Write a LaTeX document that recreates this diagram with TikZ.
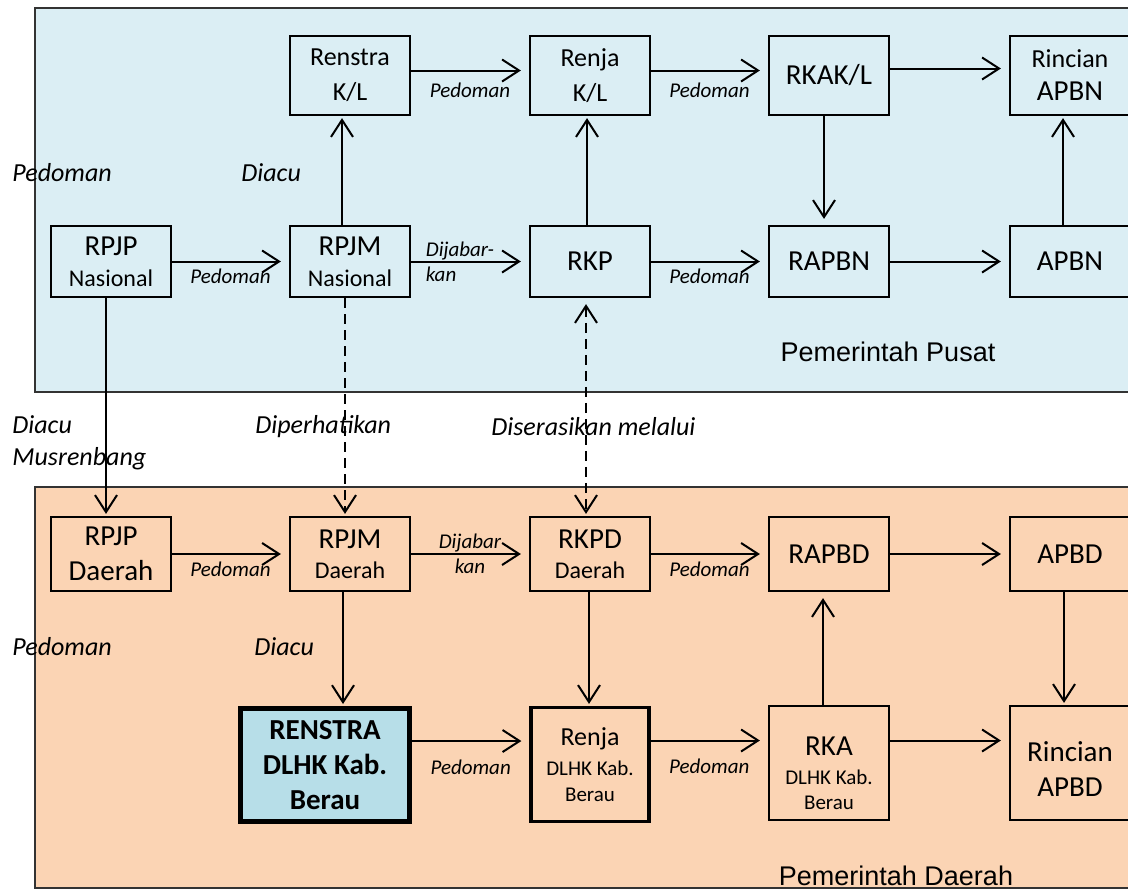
\documentclass[tikz,border=0pt]{standalone}
\usepackage{fontspec}
\setmainfont{Carlito}
\newfontfamily\arialfont{Liberation Sans}
\usetikzlibrary{arrows.meta}

\definecolor{pusatblue}{HTML}{DBEEF4}
\definecolor{daerahorange}{HTML}{FBD4B4}
\definecolor{renstrablue}{HTML}{B7DEE8}

\newcommand{\bxbig}{\fontsize{14.5}{15.5}\selectfont}
\newcommand{\bxmid}{\fontsize{13}{15.5}\selectfont}
\newcommand{\bxsub}{\fontsize{12}{15.5}\selectfont}
\newcommand{\bxtiny}{\fontsize{10.5}{12.5}\selectfont}
\newcommand{\lblsmall}{\fontsize{10.5}{12.5}\selectfont\itshape}
\newcommand{\lblbig}{\fontsize{13}{16}\selectfont\itshape}

\tikzset{
	plan/.style={draw,line width=1.1pt,align=center,inner sep=0pt,minimum width=60pt,font=\bxbig},
	panel/.style={draw=black!80,line width=1pt},
	hlink/.style={->,line width=1pt,shorten >=4pt},
	vlink/.style={->,line width=1pt,shorten >=1pt},
	dlink/.style={vlink,dash pattern=on 5pt off 3pt},
	lbl/.style={font=\lblsmall},
	note/.style={font=\lblbig,anchor=west,inner sep=0pt},
	region/.style={font=\arialfont\fontsize{13.5}{16}\selectfont,inner sep=0pt},
}

\begin{document}
\begin{tikzpicture}[x=0.5pt,y=-0.5pt,>={Straight Barb[length=8.5pt,width=11pt]}]
	\clip (0,0) rectangle (1128,889);
	\draw[panel,fill=pusatblue] (35,8) rectangle (1140,392);
	\draw[panel,fill=daerahorange] (35,487) rectangle (1140,888);
	
	% Pemerintah Pusat
	\node[plan,minimum height=39.5pt](renstrakl) at (350,75.5){\bxmid Renstra\\[2pt]\bxmid K/L};
	\node[plan,minimum height=39.5pt](renjakl) at (590,75.5){\bxmid Renja\\[2pt]\bxmid K/L};
	\node[plan,minimum height=39.5pt](rkakl) at (829,75.5){RKAK/L};
	\node[plan,minimum height=39.5pt](rincianapbn) at (1070,75.5){\bxmid Rincian\\[1pt]APBN};
	\node[plan,minimum height=35.5pt](rpjpn) at (111,261.5){RPJP\\{\bxsub Nasional}};
	\node[plan,minimum height=35.5pt](rpjmn) at (350,261.5){RPJM\\{\bxsub Nasional}};
	\node[plan,minimum height=35.5pt](rkp) at (590,261.5){RKP};
	\node[plan,minimum height=35.5pt](rapbn) at (829,261.5){RAPBN};
	\node[plan,minimum height=35.5pt](apbn) at (1070,261.5){APBN};
	
	% Pemerintah Daerah
	\node[plan,minimum height=37pt](rpjpd) at (111,554){RPJP\\[2pt]Daerah};
	\node[plan,minimum height=37pt](rpjmd) at (350,554){RPJM\\[-0.5pt]{\bxsub Daerah}};
	\node[plan,minimum height=37pt](rkpd) at (590,554){RKPD\\[-0.5pt]{\bxsub Daerah}};
	\node[plan,minimum height=37pt](rapbd) at (829,554){RAPBD};
	\node[plan,minimum height=37pt](apbd) at (1070,554){APBD};
	\node[plan,line width=2.5pt,fill=renstrablue,minimum width=84.5pt,minimum height=56.5pt,font=\bxbig\bfseries](renstrad) at (325,765){RENSTRA\\[2pt]DLHK Kab.\\[2pt]Berau};
	\node[plan,line width=1.6pt,minimum width=59pt,minimum height=57pt,font=\bxtiny](renjad) at (590,764.5){{\bxmid Renja}\\[2.5pt]DLHK Kab.\\[0.5pt]Berau};
	\node[plan,minimum height=57pt,font=\bxtiny](rkad) at (829,763){{\bxbig\rule{0pt}{20pt}RKA}\\[2pt]DLHK Kab.\\Berau};
	\node[plan,minimum height=57pt](rincianapbd) at (1070,763){\rule{0pt}{15.5pt}Rincian\\[2pt]APBD};
	
	% horizontal links
	\draw[hlink]([yshift=2.5pt]renstrakl.east)--([yshift=2.5pt]renstrakl.east-|renjakl.west) node[lbl,midway,yshift=-10pt]{Pedoman};
	\draw[hlink]([yshift=2.5pt]renjakl.east)--([yshift=2.5pt]renjakl.east-|rkakl.west) node[lbl,midway,yshift=-10pt]{Pedoman};
	\draw[hlink]([yshift=3.5pt]rkakl.east)--([yshift=3.5pt]rkakl.east-|rincianapbn.west);
	\draw[hlink](rpjpn.east)--(rpjmn.west) node[lbl,midway,yshift=-7.5pt]{Pedoman};
	\draw[hlink](rpjmn.east)--(rkp.west) node[lbl,pos=0.06,anchor=west,align=left]{Dijabar-\\kan};
	\draw[hlink](rkp.east)--(rapbn.west) node[lbl,midway,yshift=-7.5pt]{Pedoman};
	\draw[hlink](rapbn.east)--(apbn.west);
	\draw[hlink](rpjpd.east)--(rpjmd.west) node[lbl,midway,yshift=-7.5pt]{Pedoman};
	\draw[hlink](rpjmd.east)--(rkpd.west) node[lbl,midway,align=center]{Dijabar\\kan};
	\draw[hlink](rkpd.east)--(rapbd.west) node[lbl,midway,yshift=-7.5pt]{Pedoman};
	\draw[hlink](rapbd.east)--(apbd.west);
	\draw[hlink]([yshift=12pt]renstrad.east)--([yshift=12pt]renstrad.east-|renjad.west) node[lbl,midway,yshift=-13pt]{Pedoman};
	\draw[hlink]([yshift=12pt]renjad.east)--([yshift=12pt]renjad.east-|rkad.west) node[lbl,midway,yshift=-13pt]{Pedoman};
	\draw[hlink]([yshift=12pt]renjad.east-|rkad.east)--([yshift=12pt]renjad.east-|rincianapbd.west);
	
	% vertical links
	\draw[vlink]([xshift=-4pt]rpjmn.north)--([xshift=-4pt]rpjmn.north|-renstrakl.south);
	\draw[vlink]([xshift=-1.5pt]rkp.north)--([xshift=-1.5pt]rkp.north|-renjakl.south);
	\draw[vlink,shorten >=3pt]([xshift=-2.5pt]rkakl.south)--([xshift=-2.5pt]rkakl.south|-rapbn.north);
	\draw[vlink]([xshift=-3.5pt]apbn.north)--([xshift=-3.5pt]apbn.north|-rincianapbn.south);
	\draw[vlink]([xshift=-2.5pt]rpjpn.south)--([xshift=-2.5pt]rpjpn.south|-rpjpd.north);
	\draw[dlink]([xshift=-2.5pt]rpjmn.south)--([xshift=-2.5pt]rpjmn.south|-rpjmd.north);
	\draw[dlink,<->,shorten <=3pt]([xshift=-2pt]rkp.south)--([xshift=-2pt]rkp.south|-rkpd.north);
	\draw[vlink]([xshift=-3.5pt]rpjmd.south)--([xshift=-3.5pt]rpjmd.south|-renstrad.north);
	\draw[vlink]([xshift=-0.5pt]rkpd.south)--([xshift=-0.5pt]rkpd.south|-renjad.north);
	\draw[vlink,shorten >=3pt]([xshift=-3pt]rkad.north)--([xshift=-3pt]rkad.north|-rapbd.south);
	\draw[vlink]([xshift=-3pt]apbd.south)--([xshift=-3pt]apbd.south|-rincianapbd.north);
	
	% free labels
	\node[note](pedomanpusat) at (12,173){Pedoman};
	\node[note](diacupusat) at (241,173){Diacu};
	\node[note,align=left](diacumusren) at (12,443){Diacu\\Musrenbang};
	\node[note](diperhatikan) at (255,427){Diperhatikan};
	\node[note](diserasikan) at (491,427){Diserasikan melalui};
	\node[note](pedomandaerah) at (12,647){Pedoman};
	\node[note](diacudaerah) at (254,647){Diacu};
	\node[region](pusat) at (888,352){Pemerintah Pusat};
	\node[region](daerah) at (896,876){Pemerintah Daerah};
\end{tikzpicture}
\end{document}
